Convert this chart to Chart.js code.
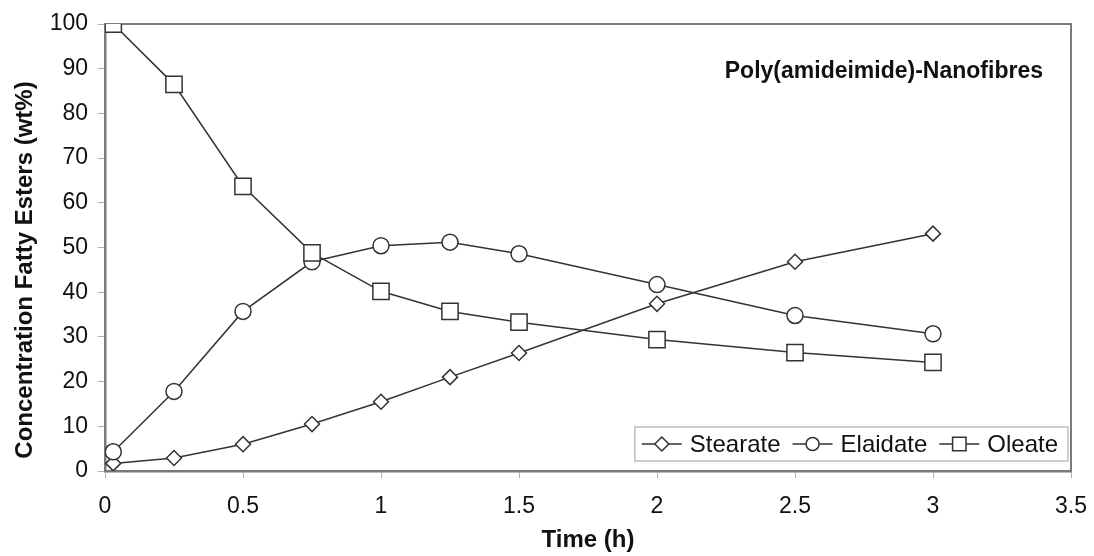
<!DOCTYPE html>
<html>
<head>
<meta charset="utf-8">
<script src="https://cdn.jsdelivr.net/npm/chart.js@4/dist/chart.umd.min.js"></script>
<style>
  body { margin: 0; background: #fff; }
  #wrap { width: 1094px; height: 556px; position: relative; }
</style>
</head>
<body>
<div id="wrap"><canvas id="esterChart"></canvas></div>
<script>
'use strict'

//++++++++++++++ Data ++++++++++++++//
let timeHours = [0.03, 0.25, 0.5, 0.75, 1, 1.25, 1.5, 2, 2.5, 3];
let stearateValues = [1.7, 2.9, 6.0, 10.5, 15.5, 21.0, 26.4, 37.4, 46.8, 53.1];
let elaidateValues = [4.3, 17.8, 35.7, 46.8, 50.4, 51.2, 48.6, 41.7, 34.8, 30.7];
let oleateValues = [100, 86.5, 63.7, 48.8, 40.2, 35.7, 33.3, 29.4, 26.5, 24.3];
let seriesNames = ['Stearate', 'Elaidate', 'Oleate'];
let xTickValues = [0, 0.5, 1, 1.5, 2, 2.5, 3, 3.5];
let yTickValues = [0, 10, 20, 30, 40, 50, 60, 70, 80, 90, 100];
let chartTitle = 'Poly(amideimide)-Nanofibres';
let xAxisTitle = 'Time (h)';
let yAxisTitle = 'Concentration Fatty Esters (wt%)';

//++++++++++++++ Styles ++++++++++++++//
let fontFamily = '"Liberation Sans", Arial, Helvetica, sans-serif';
let inkColor = '#333333';
let axisColor = '#7a7a7a';
let markerStyles = [
  { pointStyle: 'rectRot', radius: 7.5, legendRadius: 7 },
  { pointStyle: 'circle', radius: 8, legendRadius: 6.5 },
  { pointStyle: 'rect', radius: 11.5, legendRadius: 9.5 }
];

function toPoints(values) {
  return values.map((v, i) => ({ x: timeHours[i], y: v }));
}

function makeDataset(index, values, drawOrder) {
  return {
    label: seriesNames[index],
    data: toPoints(values),
    showLine: true,
    borderColor: inkColor,
    borderWidth: 1.5,
    pointStyle: markerStyles[index].pointStyle,
    pointRadius: markerStyles[index].radius,
    pointBackgroundColor: '#ffffff',
    pointBorderColor: inkColor,
    pointBorderWidth: 1.5,
    order: drawOrder
  };
}

//++++++++++++++ Plugins ++++++++++++++//
let frameLines = {
  id: 'frameLines',
  beforeDatasetsDraw(chart) {
    let ctx = chart.ctx;
    let a = chart.chartArea;
    ctx.save();
    ctx.strokeStyle = axisColor;
    ctx.lineWidth = 2;
    ctx.beginPath();
    ctx.moveTo(a.left, a.top);
    ctx.lineTo(a.right, a.top);
    ctx.lineTo(a.right, a.bottom);
    ctx.stroke();
    ctx.restore();
  }
};

// titles placed by hand: the chart title sits inside the plot, the y title is off-centre
let titleTexts = {
  id: 'titleTexts',
  afterDraw(chart) {
    let ctx = chart.ctx;
    let a = chart.chartArea;
    ctx.save();
    ctx.fillStyle = '#111';
    ctx.font = 'bold 23px ' + fontFamily;
    ctx.textAlign = 'right';
    ctx.textBaseline = 'middle';
    ctx.fillText(chartTitle, a.right - 28, a.top + 48);

    ctx.font = 'bold 24px ' + fontFamily;
    ctx.textAlign = 'center';
    ctx.translate(25, 270);
    ctx.rotate(-Math.PI / 2);
    ctx.fillText(yAxisTitle, 0, 0);
    ctx.restore();
  }
};

let legendBox = {
  id: 'legendBox',
  afterDraw(chart) {
    let ctx = chart.ctx;
    let a = chart.chartArea;
    ctx.save();
    ctx.font = '24px ' + fontFamily;
    let widths = seriesNames.map(n => ctx.measureText(n).width);
    let total = 7 + 10 + 12 * (seriesNames.length - 1);
    widths.forEach(w => { total += 48 + w; });
    let right = a.right - 3;
    let left = right - total;
    let bottom = a.bottom - 10;
    let top = bottom - 34;
    ctx.fillStyle = '#ffffff';
    ctx.fillRect(left, top, total, bottom - top);
    ctx.strokeStyle = '#bdbdbd';
    ctx.lineWidth = 1.5;
    ctx.strokeRect(left, top, total, bottom - top);

    let cy = (top + bottom) / 2;
    let x = left + 7;
    for (let i = 0; i < seriesNames.length; i++) {
      ctx.strokeStyle = inkColor;
      ctx.lineWidth = 1.5;
      ctx.beginPath();
      ctx.moveTo(x, cy);
      ctx.lineTo(x + 40, cy);
      ctx.stroke();
      ctx.fillStyle = '#ffffff';
      Chart.helpers.drawPoint(ctx, {
        pointStyle: markerStyles[i].pointStyle,
        radius: markerStyles[i].legendRadius,
        borderWidth: 1.5,
        rotation: 0
      }, x + 20, cy);
      ctx.fillStyle = '#111';
      ctx.textAlign = 'left';
      ctx.textBaseline = 'middle';
      ctx.fillText(seriesNames[i], x + 48, cy + 1);
      x += 48 + widths[i] + 12;
    }
    ctx.restore();
  }
};

//++++++++++++++ Chart ++++++++++++++//
const ctx = document.getElementById('esterChart').getContext('2d');
const esterChart = new Chart(ctx, {
  type: 'scatter',
  data: {
    datasets: [
      makeDataset(0, stearateValues, 2),
      makeDataset(1, elaidateValues, 1),
      makeDataset(2, oleateValues, 0)
    ]
  },
  options: {
    responsive: true,
    maintainAspectRatio: false,
    animation: false,
    layout: { padding: { top: 24, right: 23, bottom: 0, left: 0 } },
    plugins: {
      legend: { display: false },
      tooltip: { enabled: false }
    },
    scales: {
      x: {
        type: 'linear',
        min: 0,
        max: 3.5,
        afterBuildTicks: scale => { scale.ticks = xTickValues.map(v => ({ value: v })); },
        afterFit: scale => {
          scale.height = 85;
          scale.paddingLeft = 0;
          scale.paddingRight = 0;
        },
        border: { color: axisColor, width: 2.5 },
        grid: { drawOnChartArea: false, drawTicks: true, tickLength: 7, color: '#b0b0b0' },
        ticks: {
          color: '#111',
          padding: 15,
          maxRotation: 0,
          font: { family: fontFamily, size: 23 },
          callback: v => String(v)
        },
        title: {
          display: true,
          text: xAxisTitle,
          color: '#111',
          padding: { top: 0, bottom: 1 },
          font: { family: fontFamily, size: 24, weight: 'bold' }
        }
      },
      y: {
        min: 0,
        max: 100,
        afterBuildTicks: scale => { scale.ticks = yTickValues.map(v => ({ value: v })); },
        afterFit: scale => { scale.width = 105; },
        border: { color: axisColor, width: 2.5 },
        grid: { drawOnChartArea: false, drawTicks: true, tickLength: 7, color: '#b0b0b0' },
        ticks: {
          color: '#111',
          padding: 10,
          font: { family: fontFamily, size: 23 }
        }
      }
    }
  },
  plugins: [frameLines, titleTexts, legendBox]
});
</script>
</body>
</html>
